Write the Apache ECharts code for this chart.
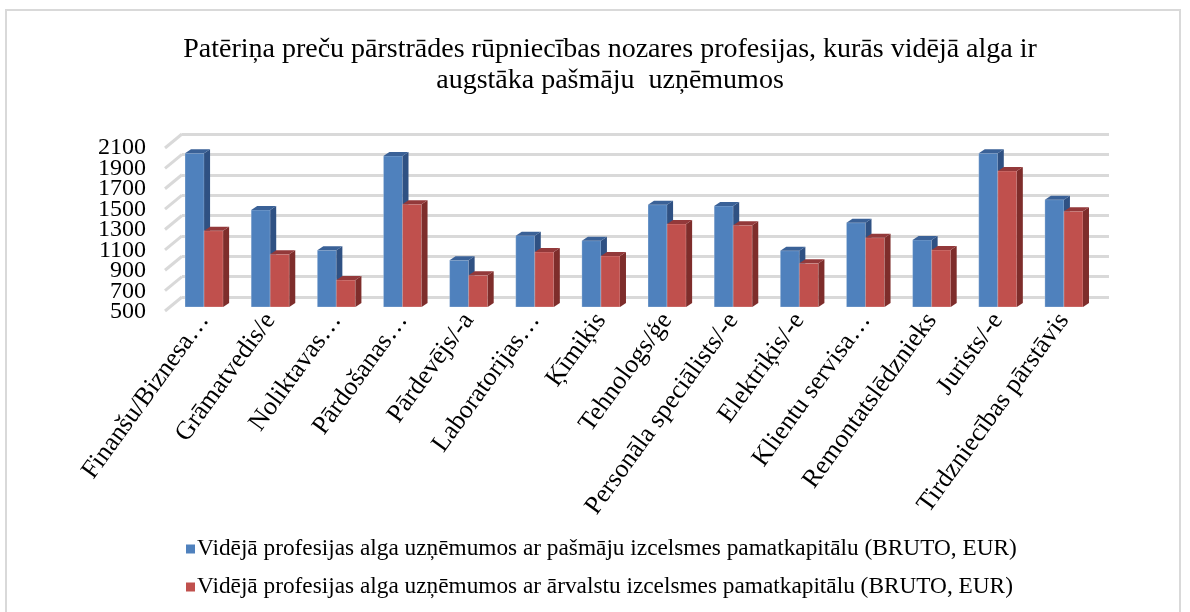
<!DOCTYPE html>
<html>
<head>
<meta charset="utf-8">
<script src="https://cdn.jsdelivr.net/npm/echarts@6/dist/echarts.min.js"></script>
<style>
    html, body { margin: 0; padding: 0; background: #fff; }
    #chart { width: 1190px; height: 612px; }
</style>
</head>
<body>
<div id="chart"></div>
<script>
// data
const categories = [
    'Finanšu/Biznesa…', 'Grāmatvedis/e', 'Noliktavas…', 'Pārdošanas…', 'Pārdevējs/-a',
    'Laboratorijas…', 'Ķīmiķis', 'Tehnologs/ģe', 'Personāla speciālists/-e', 'Elektriķis/-e',
    'Klientu servisa…', 'Remontatslēdznieks', 'Jurists/-e', 'Tirdzniecības pārstāvis'
];
const pasmaju = [2000, 1446, 1053, 1973, 956, 1196, 1147, 1498, 1485, 1049, 1322, 1154, 2000, 1547];
const arvalstu = [1244, 1014, 763, 1502, 809, 1037, 998, 1310, 1297, 926, 1176, 1056, 1827, 1434];
const yTicks = [500, 700, 900, 1100, 1300, 1500, 1700, 1900, 2100];

const seriesNames = [
    'Vidējā profesijas alga uzņēmumos ar pašmāju izcelsmes pamatkapitālu (BRUTO, EUR)',
    'Vidējā profesijas alga uzņēmumos ar ārvalstu izcelsmes pamatkapitālu (BRUTO, EUR)'
];

const FONT = '"Liberation Serif", "Times New Roman", serif';
const Y_MIN = yTicks[0];
const Y_MAX = yTicks[yTicks.length - 1];
const BAR_FRAC = 0.288;
const DEPTH_X = 6;
const DEPTH_Y = 4;

const chart = echarts.init(document.getElementById('chart'));

// 3d-looking column: front face + side + top
function columnRenderer(slot, front, side, top) {
    return function (params, api) {
        const cat = api.value(0);
        const val = api.value(1);
        const pTop = api.coord([cat, val]);
        const pBase = api.coord([cat, Y_MIN]);
        const bw = api.size([1, 0])[0] * BAR_FRAC;
        const x0 = pTop[0] + (slot === 0 ? -bw : 0);
        const x1 = x0 + bw;
        const yT = pTop[1];
        const yB = pBase[1];
        return {
            type: 'group',
            children: [
                {
                    type: 'rect',
                    shape: { x: x0, y: yT, width: bw, height: yB - yT },
                    style: { fill: front, stroke: 'rgba(255,255,255,0.25)', lineWidth: 1 }
                },
                {
                    type: 'polygon',
                    shape: { points: [[x1, yT], [x1 + DEPTH_X, yT - DEPTH_Y], [x1 + DEPTH_X, yB - DEPTH_Y], [x1, yB]] },
                    style: { fill: side }
                },
                {
                    type: 'polygon',
                    shape: { points: [[x0, yT], [x0 + DEPTH_X, yT - DEPTH_Y], [x1 + DEPTH_X, yT - DEPTH_Y], [x1, yT]] },
                    style: { fill: top }
                }
            ]
        };
    };
}

chart.setOption({
    backgroundColor: '#fff',
    animation: false,
    title: {
        text: 'Patēriņa preču pārstrādes rūpniecības nozares profesijas, kurās vidējā alga ir\naugstāka pašmāju  uzņēmumos',
        left: 605,
        top: 29,
        textAlign: 'center',
        textStyle: {
            fontFamily: FONT,
            fontWeight: 'normal',
            fontSize: 28,
            lineHeight: 31,
            color: '#000'
        }
    },
    legend: {
        orient: 'vertical',
        left: 181,
        top: 532,
        itemWidth: 9,
        itemHeight: 9,
        itemGap: 14,
        icon: 'rect',
        data: seriesNames,
        textStyle: {
            fontFamily: FONT,
            fontSize: 23.3,
            lineHeight: 24,
            color: '#000',
            padding: [0, 0, 0, -3]
        }
    },
    graphic: [
        {
            type: 'rect',
            shape: { x: 6, y: 10, width: 1174, height: 640 },
            style: { fill: 'none', stroke: '#d9d9d9', lineWidth: 2 },
            silent: true
        }
    ],
    grid: [
        // plane of the columns
        { left: 171, right: 93, top: 143, bottom: 305 },
        // front plane (value labels)
        { left: 165, right: 100, top: 148, bottom: 300 },
        // back wall (gridlines)
        { left: 182, right: 81, top: 134, bottom: 315 }
    ],
    xAxis: [
        {
            gridIndex: 0,
            type: 'category',
            data: categories,
            axisLine: { show: false },
            axisTick: { show: false },
            axisLabel: {
                interval: 0,
                rotate: 54,
                margin: 9,
                fontFamily: FONT,
                fontSize: 26,
                color: '#000'
            }
        },
        { gridIndex: 1, type: 'value', show: false, min: 0, max: 1 },
        { gridIndex: 2, type: 'value', show: false, min: 0, max: 1 }
    ],
    yAxis: [
        { gridIndex: 0, type: 'value', show: false, min: Y_MIN, max: Y_MAX, interval: 200 },
        { gridIndex: 1, type: 'value', show: false, min: Y_MIN, max: Y_MAX, interval: 200 },
        {
            gridIndex: 2,
            type: 'value',
            min: Y_MIN,
            max: Y_MAX,
            interval: 200,
            axisLine: { show: false },
            axisTick: { show: false },
            axisLabel: { show: false },
            splitLine: { lineStyle: { color: '#d9d9d9', width: 3 } }
        }
    ],
    series: [
        {
            // side wall lines
            type: 'custom',
            xAxisIndex: 2,
            yAxisIndex: 2,
            silent: true,
            z: 1,
            data: yTicks.map(v => [0, v]),
            renderItem(params, api) {
                const p = api.coord([0, api.value(1)]);
                return {
                    type: 'line',
                    shape: { x1: p[0] - 17, y1: p[1] + 14, x2: p[0], y2: p[1] },
                    style: { stroke: '#d9d9d9', lineWidth: 3 }
                };
            }
        },
        {
            // value labels on the front plane (packed tight, axis labels would hide some)
            type: 'custom',
            xAxisIndex: 1,
            yAxisIndex: 1,
            silent: true,
            z: 2,
            data: yTicks.map(v => [0, v]),
            renderItem(params, api) {
                const v = api.value(1);
                const p = api.coord([0, v]);
                return {
                    type: 'text',
                    x: p[0] - 19,
                    y: p[1],
                    style: {
                        text: String(v),
                        align: 'right',
                        verticalAlign: 'middle',
                        fontFamily: FONT,
                        fontSize: 24,
                        fill: '#000'
                    }
                };
            }
        },
        {
            name: seriesNames[0],
            type: 'custom',
            xAxisIndex: 0,
            yAxisIndex: 0,
            z: 3,
            itemStyle: { color: '#4f81bd' },
            data: pasmaju.map((v, i) => [i, v]),
            encode: { x: 0, y: 1 },
            renderItem: columnRenderer(0, '#4f81bd', '#2f5183', '#3a6197')
        },
        {
            name: seriesNames[1],
            type: 'custom',
            xAxisIndex: 0,
            yAxisIndex: 0,
            z: 4,
            itemStyle: { color: '#c0504d' },
            data: arvalstu.map((v, i) => [i, v]),
            encode: { x: 0, y: 1 },
            renderItem: columnRenderer(1, '#c0504d', '#7e2d2b', '#93393a')
        }
    ]
});
</script>
</body>
</html>
